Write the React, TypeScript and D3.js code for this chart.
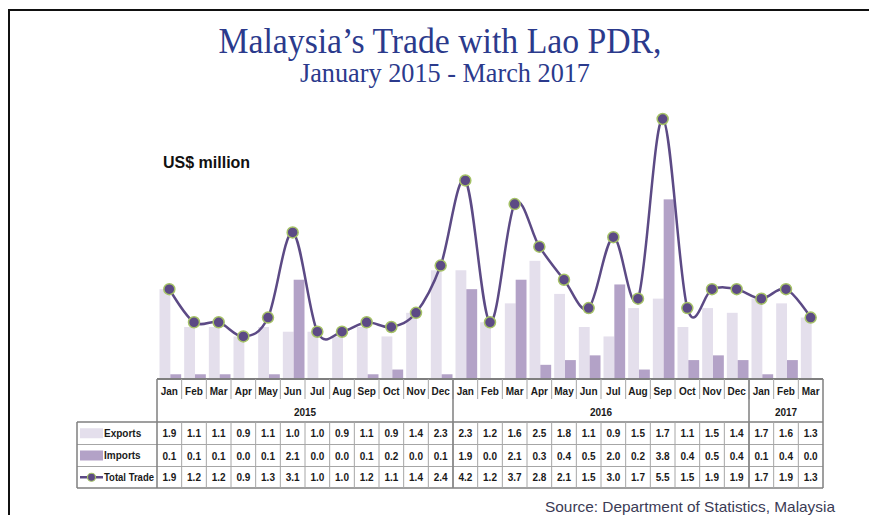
import React, { useEffect, useRef } from 'react';
import * as d3 from 'd3';

// Values (US$ million)
const months = [
  'Jan', 'Feb', 'Mar', 'Apr', 'May', 'Jun', 'Jul', 'Aug', 'Sep', 'Oct', 'Nov', 'Dec',
  'Jan', 'Feb', 'Mar', 'Apr', 'May', 'Jun', 'Jul', 'Aug', 'Sep', 'Oct', 'Nov', 'Dec',
  'Jan', 'Feb', 'Mar',
];
const years = [
  { label: '2015', start: 0, end: 11 },
  { label: '2016', start: 12, end: 23 },
  { label: '2017', start: 24, end: 26 },
];
const exportsData = [
  1.9, 1.1, 1.1, 0.9, 1.1, 1.0, 1.0, 0.9, 1.1, 0.9, 1.4, 2.3,
  2.3, 1.2, 1.6, 2.5, 1.8, 1.1, 0.9, 1.5, 1.7, 1.1, 1.5, 1.4,
  1.7, 1.6, 1.3,
];
const importsData = [
  0.1, 0.1, 0.1, 0.0, 0.1, 2.1, 0.0, 0.0, 0.1, 0.2, 0.0, 0.1,
  1.9, 0.0, 2.1, 0.3, 0.4, 0.5, 2.0, 0.2, 3.8, 0.4, 0.5, 0.4,
  0.1, 0.4, 0.0,
];
const totalData = [
  1.9, 1.2, 1.2, 0.9, 1.3, 3.1, 1.0, 1.0, 1.2, 1.1, 1.4, 2.4,
  4.2, 1.2, 3.7, 2.8, 2.1, 1.5, 3.0, 1.7, 5.5, 1.5, 1.9, 1.9,
  1.7, 1.9, 1.3,
];

export default function App() {
  const svgRef = useRef<SVGSVGElement>(null);

  useEffect(() => {
    if (!svgRef.current) return;
    d3.select(svgRef.current).selectAll('*').remove();

    const width = 869;
    const height = 515;
    const sans = '"Liberation Sans", Arial, sans-serif';

    const exportColor = '#e4dfec';
    const importColor = '#b3a2c7';
    const lineColor = '#5c4a85';
    const markerStroke = '#a5c266';
    const gridColor = '#a6a6a6';
    const borderColor = '#7f7f7f';

    const svg = d3.select(svgRef.current)
      .attr('width', width)
      .attr('height', height)
      .style('background', '#ffffff');

    // Frame
    svg.append('path')
      .attr('d', `M9,${height} L9,10 L${width},10`)
      .attr('fill', 'none')
      .attr('stroke', '#111')
      .attr('stroke-width', 2);

    // Titles
    svg.append('text')
      .attr('x', 440).attr('y', 53)
      .attr('text-anchor', 'middle')
      .attr('textLength', 443)
      .attr('lengthAdjust', 'spacingAndGlyphs')
      .style('font-family', '"Liberation Serif", "Times New Roman", serif')
      .style('font-size', '36px')
      .style('fill', '#2b3a8c')
      .text('Malaysia’s Trade with Lao PDR,');

    svg.append('text')
      .attr('x', 445).attr('y', 82)
      .attr('text-anchor', 'middle')
      .attr('textLength', 290)
      .attr('lengthAdjust', 'spacingAndGlyphs')
      .style('font-family', '"Liberation Serif", "Times New Roman", serif')
      .style('font-size', '27px')
      .style('fill', '#2b3a8c')
      .text('January 2015 - March 2017');

    svg.append('text')
      .attr('x', 163).attr('y', 168)
      .style('font-family', sans)
      .style('font-size', '16px')
      .style('font-weight', 'bold')
      .style('fill', '#111')
      .text('US$ million');

    // Scales
    const idx = months.map((_, i) => i);
    const x = d3.scaleBand<number>().domain(idx).range([157, 823]).padding(0);
    const colW = x.bandwidth();
    const inner = d3.scaleBand<string>()
      .domain(['Exports', 'Imports'])
      .range([2.5, colW - 0.5])
      .padding(0);
    const baseY = 379;
    const y = d3.scaleLinear().domain([0, 5.5]).range([baseY, 119]);

    // Bars
    const plot = svg.append('g');
    plot.selectAll('rect.exp')
      .data(exportsData)
      .join('rect')
      .attr('class', 'exp')
      .attr('x', (_, i) => x(i)! + inner('Exports')!)
      .attr('width', inner.bandwidth())
      .attr('y', d => y(d))
      .attr('height', d => baseY - y(d))
      .attr('fill', exportColor);

    plot.selectAll('rect.imp')
      .data(importsData)
      .join('rect')
      .attr('class', 'imp')
      .attr('x', (_, i) => x(i)! + inner('Imports')!)
      .attr('width', inner.bandwidth())
      .attr('y', d => y(d))
      .attr('height', d => baseY - y(d))
      .attr('fill', importColor);

    // Smoothed total trade line
    const line = d3.line<number>()
      .x((_, i) => x(i)! + colW / 2)
      .y(d => y(d))
      .curve(d3.curveCardinal.tension(0));

    plot.append('path')
      .datum(totalData)
      .attr('d', line)
      .attr('fill', 'none')
      .attr('stroke', lineColor)
      .attr('stroke-width', 2.5);

    plot.selectAll('circle')
      .data(totalData)
      .join('circle')
      .attr('cx', (_, i) => x(i)! + colW / 2)
      .attr('cy', d => y(d))
      .attr('r', 5.5)
      .attr('fill', lineColor)
      .attr('stroke', markerStroke)
      .attr('stroke-width', 1.5);

    // Data table
    const table = svg.append('g');
    const left = 157;
    const right = 823;
    const legLeft = 77;
    const rowMonth = [baseY, 402];
    const rowYear = [402, 422];
    const rowTops = [422, 444.5, 466.5];
    const rowBottom = 488;

    // horizontal lines
    table.append('line')
      .attr('x1', left).attr('x2', right)
      .attr('y1', baseY).attr('y2', baseY)
      .attr('stroke', borderColor).attr('stroke-width', 2);
    [422, 444.5, 466.5, rowBottom].forEach((yy, k) => {
      table.append('line')
        .attr('x1', legLeft).attr('x2', right)
        .attr('y1', yy).attr('y2', yy)
        .attr('stroke', k === 0 || k === 3 ? borderColor : gridColor)
        .attr('stroke-width', k === 0 || k === 3 ? 1.5 : 1);
    });

    // month separators (month row + data rows)
    idx.slice(1).forEach(i => {
      const xx = x(i)!;
      table.append('line')
        .attr('x1', xx).attr('x2', xx)
        .attr('y1', rowMonth[0]).attr('y2', rowMonth[1] - 3)
        .attr('stroke', gridColor).attr('stroke-width', 1);
      table.append('line')
        .attr('x1', xx).attr('x2', xx)
        .attr('y1', 422).attr('y2', rowBottom)
        .attr('stroke', gridColor).attr('stroke-width', 1);
    });

    // year boundaries and outer edges
    [left, x(12)!, x(24)!, right].forEach(xx => {
      table.append('line')
        .attr('x1', xx).attr('x2', xx)
        .attr('y1', baseY).attr('y2', rowBottom)
        .attr('stroke', borderColor).attr('stroke-width', 1.5);
    });
    table.append('line')
      .attr('x1', legLeft).attr('x2', legLeft)
      .attr('y1', 422).attr('y2', rowBottom)
      .attr('stroke', borderColor).attr('stroke-width', 1.5);

    const cellText = (g: d3.Selection<SVGGElement, unknown, null, undefined>) =>
      g.style('font-family', sans)
        .style('font-size', '10px')
        .style('font-weight', 'bold')
        .style('fill', '#1a1a1a')
        .attr('text-anchor', 'middle');

    const monthG = table.append('g').call(cellText);
    monthG.selectAll('text')
      .data(months)
      .join('text')
      .attr('x', (_, i) => x(i)! + colW / 2)
      .attr('y', (rowMonth[0] + rowMonth[1]) / 2 + 4)
      .text(d => d);

    const yearG = table.append('g').call(cellText);
    yearG.selectAll('text')
      .data(years)
      .join('text')
      .attr('x', d => (x(d.start)! + x(d.end)! + colW) / 2)
      .attr('y', (rowYear[0] + rowYear[1]) / 2 + 4)
      .text(d => d.label);

    [exportsData, importsData, totalData].forEach((series, r) => {
      const g = table.append('g').call(cellText);
      const top = rowTops[r];
      const bottom = r < 2 ? rowTops[r + 1] : rowBottom;
      g.selectAll('text')
        .data(series)
        .join('text')
        .attr('x', (_, i) => x(i)! + colW / 2)
        .attr('y', (top + bottom) / 2 + 4)
        .text(d => d.toFixed(1));
    });

    // Legend column
    const legendLabels = ['Exports', 'Imports', 'Total Trade'];
    legendLabels.forEach((label, r) => {
      const top = rowTops[r];
      const bottom = r < 2 ? rowTops[r + 1] : rowBottom;
      const cy = (top + bottom) / 2;
      if (r < 2) {
        table.append('rect')
          .attr('x', 80).attr('y', cy - 5)
          .attr('width', 23).attr('height', 10)
          .attr('fill', r === 0 ? exportColor : importColor);
      } else {
        table.append('line')
          .attr('x1', 80).attr('x2', 103)
          .attr('y1', cy).attr('y2', cy)
          .attr('stroke', lineColor).attr('stroke-width', 2.5);
        table.append('circle')
          .attr('cx', 91.5).attr('cy', cy).attr('r', 4)
          .attr('fill', lineColor)
          .attr('stroke', markerStroke).attr('stroke-width', 1.2);
      }
      const t = table.append('text')
        .attr('x', 104).attr('y', cy + 3.5)
        .style('font-family', sans)
        .style('font-size', '10px')
        .style('font-weight', 'bold')
        .style('fill', '#1a1a1a')
        .text(label);
      if (r === 2) t.attr('textLength', 50).attr('lengthAdjust', 'spacingAndGlyphs');
    });

    // Source note
    svg.append('text')
      .attr('x', 835).attr('y', 512)
      .attr('text-anchor', 'end')
      .attr('textLength', 290)
      .attr('lengthAdjust', 'spacingAndGlyphs')
      .style('font-family', sans)
      .style('font-size', '15px')
      .style('fill', '#3b3b55')
      .text('Source: Department of Statistics, Malaysia');
  }, []);

  return (
    <svg
      ref={svgRef}
      style={{ position: 'absolute', left: 0, top: 0, display: 'block' }}
    ></svg>
  );
}
